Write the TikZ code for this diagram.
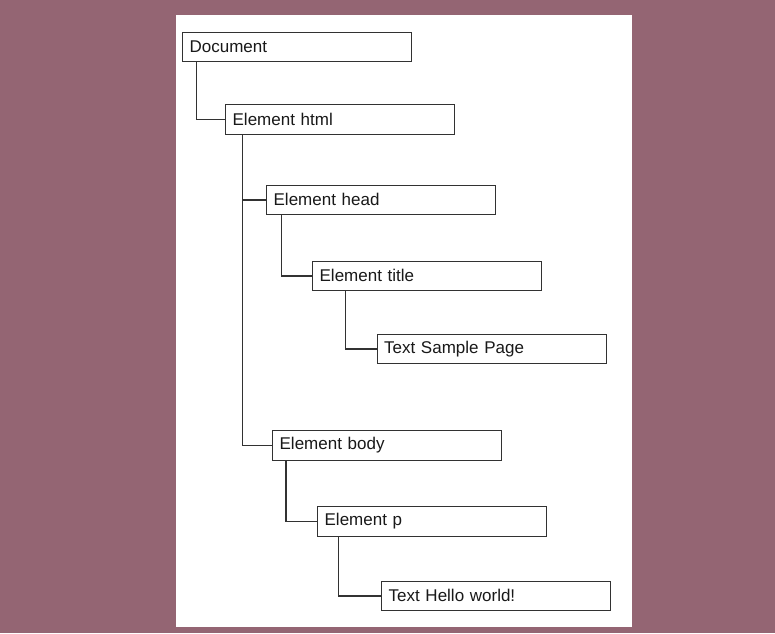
\documentclass[tikz,border=0pt]{standalone}
\usepackage{fontspec}
\setmainfont{Liberation Sans}
\definecolor{bgmauve}{RGB}{148,101,115}
\definecolor{linegray}{RGB}{50,50,50}
\definecolor{txt}{RGB}{25,25,25}
\begin{document}
\begin{tikzpicture}[x=1pt,y=-1pt,
  box/.style={draw=linegray, line width=1.3pt, fill=white, anchor=north west,
    minimum width=229pt, minimum height=29.5pt, text width=215pt, align=left,
    inner xsep=7pt, inner ysep=0pt, font=\fontsize{17}{20}\selectfont, text=txt},
  conn/.style={draw=linegray, line width=1.5pt}]
\fill[bgmauve] (0,0) rectangle (775,633);
\useasboundingbox (0,0) rectangle (775,633);
\fill[white] (176,15) rectangle (632,627);

\node[box] (doc)   at (182,31.5) {Document};
\node[box] (html)  at (225,104)  {Element html};
\node[box] (head)  at (266,184.5){Element head};
\node[box] (title) at (312,260.5){Element title};
\node[box] (tsp)   at (376.5,333.5){Text Sample Page};
\node[box] (body)  at (272,430)  {Element body};
\node[box] (p)     at (317,506)  {Element p};
\node[box] (hello) at (381,580.5){Text Hello world!};

\draw[conn] ([xshift=14.5pt]doc.south west) |- (html.west);
\draw[conn] ([xshift=17.5pt]html.south west) |- (head.west);
\draw[conn] ([xshift=17.5pt]html.south west) |- (body.west);
\draw[conn] ([xshift=15.5pt]head.south west) |- (title.west);
\draw[conn] ([xshift=33.5pt]title.south west) |- (tsp.west);
\draw[conn] ([xshift=14pt]body.south west) |- (p.west);
\draw[conn] ([xshift=21.5pt]p.south west) |- (hello.west);
\end{tikzpicture}
\end{document}
